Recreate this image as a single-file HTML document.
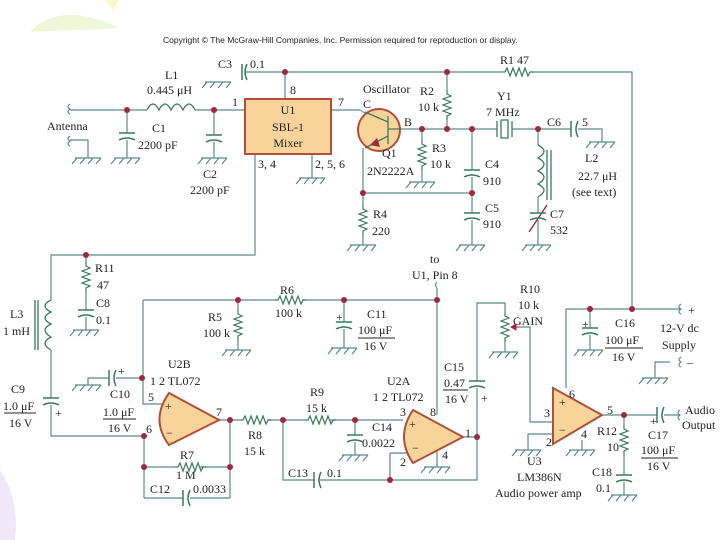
<!DOCTYPE html>
<html><head><meta charset="utf-8"><style>
html,body{margin:0;padding:0;background:#fff;}
svg{display:block;}
text{font-family:"Liberation Serif",serif;font-size:12px;fill:#222;}
.s{font-family:"Liberation Sans",sans-serif;font-size:8.5px;fill:#222;}
</style></head><body>
<svg width="720" height="540" viewBox="0 0 720 540" xmlns="http://www.w3.org/2000/svg">
<defs>
<g id="gnd"><path d="M-13,0H13M-11,0l-5,6M-3,0l-5,6M5,0l-5,6M13,0l-5,6" fill="none" stroke="#5a8a8a" stroke-width="1.2"/></g>
<g id="rv"><path d="M0,0v4l4,2-8,3 8,3-8,3 8,3-8,3 8,3-4,2v4" fill="none" stroke="#3a7a5a" stroke-width="1.2"/></g>
<g id="rh"><path d="M0,0h3l2,-4 3,8 3,-8 3,8 3,-8 3,8 3,-8 3,8 2,-4h3" fill="none" stroke="#3a7a5a" stroke-width="1.2"/></g>
<g id="cv"><path d="M-8,0H8M-8,7Q0,3 8,7" fill="none" stroke="#3a7a5a" stroke-width="1.5"/></g>
<g id="ch"><path d="M0,-8V8M7,-8Q3,0 7,8" fill="none" stroke="#3a7a5a" stroke-width="1.5"/></g>
<circle id="d" r="3" fill="#a0283c"/>
</defs>
<path d="M30,32 Q60,0 120,28 L30,32Z" fill="#eef7d8"/>
<path d="M105,0 l8,10 6,-10Z" fill="#fbf8c8"/>
<path d="M0,470 Q20,500 15,540 L0,540Z" fill="#f0e8f8"/>
<text class="s" x="163" y="43">Copyright © The McGraw-Hill Companies, Inc. Permission required for reproduction or display.</text>
<g fill="none" stroke="#5a8a8a" stroke-width="1.2">
<!-- top -->
<path d="M245,72H502M532,72H632V309"/>
<path d="M285,72V99M70,110H147M195,110H245M331,110H360"/>
<path d="M127,110V133M127,140V158M214,110V135M214,142V158"/>
<path d="M70,140H88V158M255,154V255H51V300M312,154V178"/>
<path d="M400,129H497M512,129H571M578,129H602V142M447,72V90M447,120V129"/>
<path d="M422,129V140M422,170V182M363,148V193H472M363,193V205M363,235V245"/>
<path d="M472,129V170M472,177V213M472,220V245M538,129V145M538,197V213M538,220V245"/>
<path d="M437,288V415"/>
<!-- bottom -->
<path d="M86,255V262M86,292V310M86,317V330M51,350V398M51,405V436H144"/>
<path d="M143,300H275M302,300H437M238,300V310M238,340V350M344,300V322M344,329V348"/>
<path d="M143,300V404H163M142,378H116M109,378H88V385"/>
<path d="M219,420H240M268,420H305M330,420H403M230,420V498M144,436V498"/>
<path d="M144,467H175M200,467H230M144,498H183M190,498H230"/>
<path d="M283,420V480H314M320,480H477V440M390,453H410M390,453V480M355,420V435M355,442V455"/>
<path d="M463,437H477V388M477,381V303H505V312M505,342V352"/>
<path d="M520,327H530V422H555M552,434H528V450M582,440V450"/>
<path d="M566,388V309H680M590,309V328M590,335V350M670,362H655V378"/>
<path d="M602,415H657M664,415H680M624,415V425M624,455V475M624,482V495"/>
</g>
<!-- dashed-free components -->
<path d="M147,110q6,-12 12,0q6,-12 12,0q6,-12 12,0q6,-12 12,0" fill="none" stroke="#3a7a5a" stroke-width="1.3"/>
<path d="M538,145q12,6 0,13q12,6 0,13q12,6 0,13q12,6 0,13M547,150V200M551,150V200" fill="none" stroke="#3a7a5a" stroke-width="1.3"/>
<path d="M51,300q-12,6 0,12q-12,6 0,12q-12,6 0,13q-12,6 0,13M38,300V350M35,300V350" fill="none" stroke="#3a7a5a" stroke-width="1.3"/>
<path d="M497,121V137M512,121V137M501,120h7v18h-7z" fill="none" stroke="#3a7a5a" stroke-width="1.3"/>
<path d="M529,232L547,205" stroke="#a0283c" stroke-width="1.4"/>
<path d="M242,64V80M247,64Q243,72 247,80" fill="none" stroke="#3a7a5a" stroke-width="1.5"/>
<path d="M70,104q-4,3 0,5q-4,3 0,5M70,136q-4,3 0,5q-4,3 0,5M437,282q-3,3 0,6M681,304q-4,3 0,5q-4,3 0,5M681,357q-4,3 0,5q-4,3 0,5M680,410q-4,3 0,5q-4,3 0,5" fill="none" stroke="#5a8a8a" stroke-width="1.1"/>
<use href="#cv" x="127" y="133"/><use href="#cv" x="214" y="135"/><use href="#cv" x="472" y="170"/><use href="#cv" x="472" y="213"/><use href="#cv" x="538" y="213"/>
<use href="#cv" x="86" y="310"/><use href="#cv" x="344" y="322"/><use href="#cv" x="51" y="398"/><use href="#cv" x="355" y="435"/><use href="#cv" x="477" y="381"/><use href="#cv" x="590" y="328"/><use href="#cv" x="624" y="475"/>
<use href="#ch" x="571" y="129"/><use href="#ch" x="109" y="378"/><use href="#ch" x="183" y="498"/><use href="#ch" x="314" y="480"/><use href="#ch" x="657" y="415"/>
<use href="#rv" x="447" y="90"/><use href="#rv" x="422" y="140"/><use href="#rv" x="363" y="205"/><use href="#rv" x="86" y="262"/><use href="#rv" x="238" y="310"/><use href="#rv" x="505" y="312"/><use href="#rv" x="624" y="425"/>
<use href="#rh" x="502" y="72"/><use href="#rh" x="275" y="300"/><use href="#rh" x="240" y="420"/><use href="#rh" x="305" y="420"/><use href="#rh" x="175" y="467"/>
<path d="M520,327l-9,0M511,327l5,-3v6z" stroke="#a0283c" fill="#a0283c" stroke-width="1"/>
<use href="#gnd" x="218" y="82"/><use href="#gnd" x="88" y="158"/><use href="#gnd" x="127" y="158"/><use href="#gnd" x="214" y="158"/><use href="#gnd" x="312" y="178"/>
<use href="#gnd" x="422" y="182"/><use href="#gnd" x="363" y="245"/><use href="#gnd" x="472" y="245"/><use href="#gnd" x="538" y="245"/><use href="#gnd" x="602" y="142"/>
<use href="#gnd" x="86" y="330"/><use href="#gnd" x="238" y="350"/><use href="#gnd" x="344" y="348"/><use href="#gnd" x="88" y="385"/><use href="#gnd" x="355" y="455"/><use href="#gnd" x="437" y="467"/>
<use href="#gnd" x="505" y="352"/><use href="#gnd" x="528" y="450"/><use href="#gnd" x="582" y="450"/><use href="#gnd" x="590" y="350"/><use href="#gnd" x="655" y="378"/><use href="#gnd" x="624" y="495"/>
<path d="M437,445V467" stroke="#5a8a8a" stroke-width="1.2"/>
<!-- U1 -->
<rect x="245" y="99" width="86" height="55" fill="#f8d49a" stroke="#b0503a" stroke-width="2"/>
<text x="288" y="114" text-anchor="middle">U1</text><text x="288" y="131" text-anchor="middle">SBL-1</text><text x="288" y="147" text-anchor="middle">Mixer</text>
<!-- Q1 -->
<path d="M360,110L365,113" stroke="#5a8a8a" fill="none"/>
<circle cx="379" cy="130" r="21" fill="#f8d49a" stroke="#b0503a" stroke-width="2"/>
<path d="M388,116V144M388,129H400M388,122L365,112M388,136L365,148" stroke="#3a7a5a" stroke-width="1.3" fill="none"/>
<path d="M370,145l7,-7 3,9z" fill="#a0283c"/>
<!-- opamps -->
<path d="M169,393L219,420L169,445Q150,420 169,393Z" fill="#f8d49a" stroke="#b0503a" stroke-width="2"/>
<path d="M413,410L463,437L413,463Q395,437 413,410Z" fill="#f8d49a" stroke="#b0503a" stroke-width="2"/>
<path d="M553,388L602,415L553,444Z" fill="#f8d49a" stroke="#b0503a" stroke-width="2"/>
<g fill="#a0283c">
<use href="#d" x="285" y="72"/><use href="#d" x="127" y="110"/><use href="#d" x="214" y="110"/><use href="#d" x="447" y="72"/>
<use href="#d" x="422" y="129"/><use href="#d" x="447" y="129"/><use href="#d" x="472" y="129"/><use href="#d" x="538" y="129"/><use href="#d" x="363" y="193"/><use href="#d" x="472" y="193"/>
<use href="#d" x="86" y="255"/><use href="#d" x="238" y="300"/><use href="#d" x="344" y="300"/><use href="#d" x="437" y="300"/><use href="#d" x="142" y="378"/>
<use href="#d" x="144" y="436"/><use href="#d" x="230" y="420"/><use href="#d" x="283" y="420"/><use href="#d" x="355" y="420"/><use href="#d" x="144" y="467"/><use href="#d" x="230" y="467"/>
<use href="#d" x="390" y="480"/><use href="#d" x="477" y="437"/><use href="#d" x="590" y="309"/><use href="#d" x="632" y="309"/><use href="#d" x="624" y="415"/>
</g>
<g>
<text x="218" y="68">C3</text><text x="250" y="68">0.1</text><text x="165" y="79">L1</text><text x="147" y="94">0.445 μH</text><text x="232" y="106">1</text><text x="290" y="94">8</text><text x="338" y="106">7</text>
<text x="47" y="130">Antenna</text><text x="152" y="132">C1</text><text x="138" y="149">2200 pF</text><text x="203" y="178">C2</text><text x="190" y="194">2200 pF</text>
<text x="258" y="168">3, 4</text><text x="315" y="168">2, 5, 6</text>
<text x="363" y="93">Oscillator</text><text x="363" y="108">C</text><text x="404" y="126">B</text><text x="420" y="95">R2</text><text x="418" y="111">10 k</text>
<text x="500" y="64">R1 47</text><text x="497" y="100">Y1</text><text x="486" y="116">7 MHz</text><text x="547" y="126">C6</text><text x="582" y="126">5</text>
<text x="432" y="152">R3</text><text x="430" y="168">10 k</text><text x="382" y="157">Q1</text><text x="367" y="175">2N2222A</text>
<text x="485" y="168">C4</text><text x="483" y="185">910</text><text x="485" y="212">C5</text><text x="483" y="228">910</text>
<text x="585" y="162">L2</text><text x="578" y="180">22.7 μH</text><text x="572" y="196">(see text)</text><text x="550" y="218">C7</text><text x="550" y="234">532</text>
<text x="373" y="218">R4</text><text x="372" y="235">220</text><text x="430" y="263">to</text><text x="412" y="279">U1, Pin 8</text>
<text x="95" y="272">R11</text><text x="97" y="289">47</text><text x="96" y="307">C8</text><text x="96" y="324">0.1</text>
<text x="10" y="318">L3</text><text x="3" y="335">1 mH</text>
<text x="11" y="393">C9</text><text x="3" y="410">1.0 μF</text><text x="9" y="427">16 V</text><path d="M4,413H36" stroke="#222"/><text x="55" y="417">+</text>
<text x="280" y="294">R6</text><text x="275" y="317">100 k</text><text x="208" y="321">R5</text><text x="203" y="337">100 k</text>
<text x="336" y="321">+</text><text x="367" y="318">C11</text><text x="358" y="334">100 μF</text><text x="364" y="350">16 V</text><path d="M358,338H395" stroke="#222"/>
<text x="168" y="368">U2B</text><text x="150" y="385">1  2 TL072</text><text x="118" y="375">+</text>
<text x="110" y="398">C10</text><text x="103" y="416">1.0 μF</text><text x="108" y="432">16 V</text><path d="M103,419H136" stroke="#222"/>
<text x="148" y="401">5</text><text x="216" y="416">7</text><text x="146" y="433">6</text><text x="165" y="410" font-size="11">+</text><text x="166" y="437">−</text>
<text x="248" y="439">R8</text><text x="244" y="455">15 k</text><text x="310" y="396">R9</text><text x="306" y="412">15 k</text>
<text x="180" y="459">R7</text><text x="176" y="479">1 M</text><text x="150" y="493">C12</text><text x="193" y="493">0.0033</text>
<text x="288" y="477">C13</text><text x="327" y="477">0.1</text><text x="372" y="431">C14</text><text x="362" y="447">0.0022</text>
<text x="387" y="385">U2A</text><text x="373" y="401">1  2 TL072</text><text x="400" y="416">3</text><text x="430" y="416">8</text><text x="409" y="428" font-size="11">+</text><text x="412" y="452">−</text><text x="400" y="466">2</text><text x="442" y="459">4</text><text x="465" y="437">1</text>
<text x="444" y="371">C15</text><text x="444" y="387">0.47</text><text x="445" y="403">16 V</text><path d="M443,390H468" stroke="#222"/><text x="481" y="402">+</text>
<text x="520" y="293">R10</text><text x="518" y="309">10 k</text><text x="513" y="325">GAIN</text>
<text x="582" y="328">+</text><text x="615" y="327">C16</text><text x="605" y="344">100 μF</text><text x="612" y="361">16 V</text><path d="M605,348H643" stroke="#222"/>
<text x="688" y="314">+</text><text x="660" y="332">12-V dc</text><text x="662" y="349">Supply</text><text x="687" y="366" fill="#aaa">–</text>
<text x="569" y="398">6</text><text x="544" y="417">3</text><text x="546" y="446">2</text><text x="581" y="438">4</text><text x="607" y="414">5</text><text x="559" y="406" font-size="11">+</text><text x="559" y="434" fill="#aaa">−</text>
<text x="685" y="414">Audio</text><text x="682" y="429">Output</text><text x="650" y="425">+</text><text x="648" y="439">C17</text><text x="641" y="454">100 μF</text><text x="647" y="470">16 V</text><path d="M641,458H678" stroke="#222"/>
<text x="597" y="435">R12</text><text x="607" y="451">10</text><text x="592" y="476">C18</text><text x="596" y="492">0.1</text>
<text x="527" y="465">U3</text><text x="517" y="481">LM386N</text><text x="495" y="497">Audio power amp</text>
</g>
</svg>
</body></html>
